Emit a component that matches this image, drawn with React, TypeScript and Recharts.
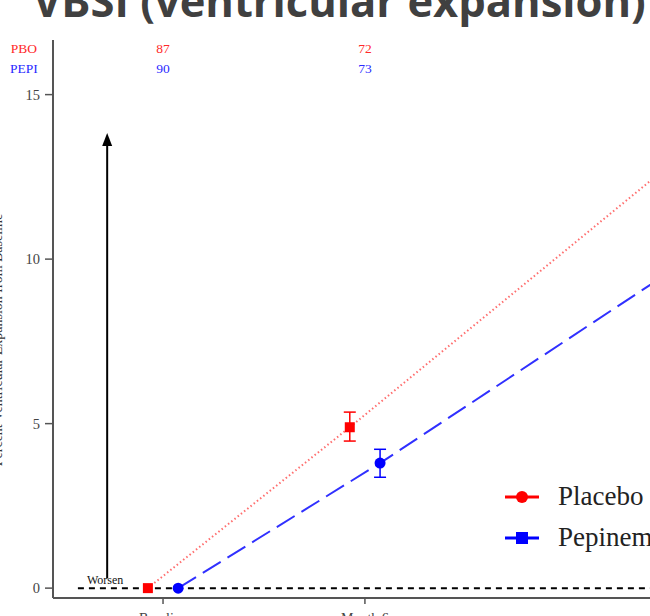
import { ComposedChart, Line, Scatter, XAxis, YAxis, ErrorBar, ReferenceLine } from "recharts";

// visits (x in months)
const visitLabels = ["Baseline", "Month 6", "Month 18"];
const visitMonths = [0, 6, 18];

// Placebo (PBO)
const pboMean = [0, 4.89, 14.95];
const pboLow = [null, 4.47, 14.2];
const pboHigh = [null, 5.35, 15.7];
const pboN = [87, 72];

// Pepinemab (PEPI)
const pepiMean = [0, 3.8, 11.9];
const pepiLow = [null, 3.37, 11.2];
const pepiHigh = [null, 4.22, 12.6];
const pepiN = [90, 73];

const yTicks = [0, 5, 10, 15];

const RED = "#ff0000";
const BLUE = "#0000ff";
const serif = "'Liberation Serif', 'Times New Roman', serif";

const DODGE = 0.45;

const build = (mean: number[], low: (number | null)[], high: (number | null)[], shift: number) =>
  visitMonths.map((m, i) => ({
    x: m + shift,
    y: mean[i],
    err: low[i] == null || high[i] == null ? null : [mean[i] - (low[i] as number), (high[i] as number) - mean[i]],
  }));

const pboData = build(pboMean, pboLow, pboHigh, -DODGE);
const pepiData = build(pepiMean, pepiLow, pepiHigh, DODGE);

// number at risk, printed above the plot at each visit
const pboCounts = pboN.map((n, i) => ({ x: visitMonths[i], y: 16.41, n }));
const pepiCounts = pepiN.map((n, i) => ({ x: visitMonths[i], y: 15.8, n }));

const SquareDot = (props: any) => {
  const { cx, cy, key } = props;
  if (cx == null || cy == null) return <g key={key} />;
  return <rect key={key} x={cx - 5} y={cy - 5} width={10} height={10} fill={RED} />;
};

const countShape = (color: string) => (props: any) => (
  <text
    x={props.cx}
    y={props.cy}
    textAnchor="middle"
    dominantBaseline="central"
    fontFamily={serif}
    fontSize={13.5}
    fill={color}
  >
    {props.payload.n}
  </text>
);

const WorsenArrow = (props: any) => {
  const { x1, y1, x2, y2 } = props;
  const top = Math.min(y1, y2);
  const bottom = Math.max(y1, y2);
  return (
    <g>
      <line x1={x1} y1={bottom} x2={x2} y2={top + 10} stroke="#000" strokeWidth={2} />
      <polygon points={`${x1},${top} ${x1 - 5},${top + 13} ${x1 + 5},${top + 13}`} fill="#000" />
      <text x={x1 - 2} y={bottom + 6} textAnchor="middle" fontFamily={serif} fontSize={12} fill="#111">
        Worsen
      </text>
    </g>
  );
};

export default function App() {
  return (
    <div
      style={{
        position: "fixed",
        left: 0,
        top: 0,
        width: 650,
        height: 616,
        overflow: "hidden",
        background: "#fff",
      }}
    >
      <div style={{ position: "absolute", left: 0, top: 0 }}>
        <ComposedChart width={840} height={628} margin={{ top: 40, right: 4, bottom: 0, left: 0 }}>
          <XAxis
            type="number"
            dataKey="x"
            domain={[-3.27, 20]}
            ticks={visitMonths}
            tickFormatter={(v: number) => visitLabels[visitMonths.indexOf(v)] ?? ""}
            height={30}
            tickSize={6}
            tickMargin={9}
            axisLine={{ stroke: "#555", strokeWidth: 2 }}
            tickLine={{ stroke: "#555", strokeWidth: 1.5 }}
            tick={{ fontSize: 14, fill: "#444", fontFamily: serif }}
          />
          <YAxis
            type="number"
            dataKey="y"
            domain={[-0.3, 16.66]}
            ticks={yTicks}
            width={53}
            tickSize={8}
            tickMargin={5}
            axisLine={{ stroke: "#555", strokeWidth: 2 }}
            tickLine={{ stroke: "#555", strokeWidth: 1.5 }}
            tick={{ fontSize: 14.5, fill: "#444", fontFamily: serif }}
          />
          <ReferenceLine
            segment={[{ x: -2.53, y: 0 }, { x: 20, y: 0 }]}
            stroke="#000"
            strokeWidth={2}
            strokeDasharray="6 5"
          />
          <ReferenceLine
            segment={[{ x: -1.66, y: 0.3 }, { x: -1.66, y: 13.83 }]}
            shape={WorsenArrow}
          />
          <Line
            data={pboData}
            dataKey="y"
            stroke="#ff4a4a"
            strokeOpacity={0.8}
            strokeWidth={2}
            strokeDasharray="1.5 2.6"
            dot={SquareDot}
            activeDot={false}
            isAnimationActive={false}
          >
            <ErrorBar dataKey="err" direction="y" width={6} stroke={RED} strokeWidth={1.5} />
          </Line>
          <Line
            data={pepiData}
            dataKey="y"
            stroke="#3030ff"
            strokeWidth={2}
            strokeDasharray="21 8"
            dot={{ r: 5.5, fill: BLUE, stroke: "none" }}
            activeDot={false}
            isAnimationActive={false}
          >
            <ErrorBar dataKey="err" direction="y" width={6} stroke={BLUE} strokeWidth={1.5} />
          </Line>
          <Scatter data={pboCounts} dataKey="y" shape={countShape("#ff2a2a")} isAnimationActive={false} />
          <Scatter data={pepiCounts} dataKey="y" shape={countShape("#2a2aff")} isAnimationActive={false} />
        </ComposedChart>
      </div>

      <svg width={650} height={616} style={{ position: "absolute", left: 0, top: 0, pointerEvents: "none" }}>
        <text x={33} y={17} fontFamily="'Open Sans', sans-serif" fontWeight={700} fontSize={43.5} fill="#404040">
          VBSI (ventricular expansion)
        </text>
        <text x={24} y={48} textAnchor="middle" dominantBaseline="central" fontFamily={serif} fontSize={13.5} fill="#ff2a2a">
          PBO
        </text>
        <text x={24} y={68} textAnchor="middle" dominantBaseline="central" fontFamily={serif} fontSize={13.5} fill="#2a2aff">
          PEPI
        </text>
        <text
          transform="translate(2,340) rotate(-90)"
          textAnchor="middle"
          fontFamily={serif}
          fontSize={14}
          fill="#333"
        >
          Percent Ventricular Expansion from Baseline
        </text>
      </svg>

      <div style={{ position: "absolute", left: 503, top: 476, fontFamily: serif, fontSize: 27, color: "#222" }}>
        {[
          { name: "Placebo", color: RED, marker: "circle" },
          { name: "Pepinemab", color: BLUE, marker: "square" },
        ].map((s) => (
          <div key={s.name} style={{ display: "flex", alignItems: "center", height: 41, whiteSpace: "nowrap" }}>
            <svg width={40} height={20} style={{ marginRight: 15 }}>
              <line x1={2} y1={10} x2={36} y2={10} stroke={s.color} strokeWidth={3} />
              {s.marker === "circle" ? (
                <circle cx={19} cy={10} r={6} fill={s.color} />
              ) : (
                <rect x={13} y={4} width={12} height={12} fill={s.color} />
              )}
            </svg>
            <span>{s.name}</span>
          </div>
        ))}
      </div>
    </div>
  );
}
